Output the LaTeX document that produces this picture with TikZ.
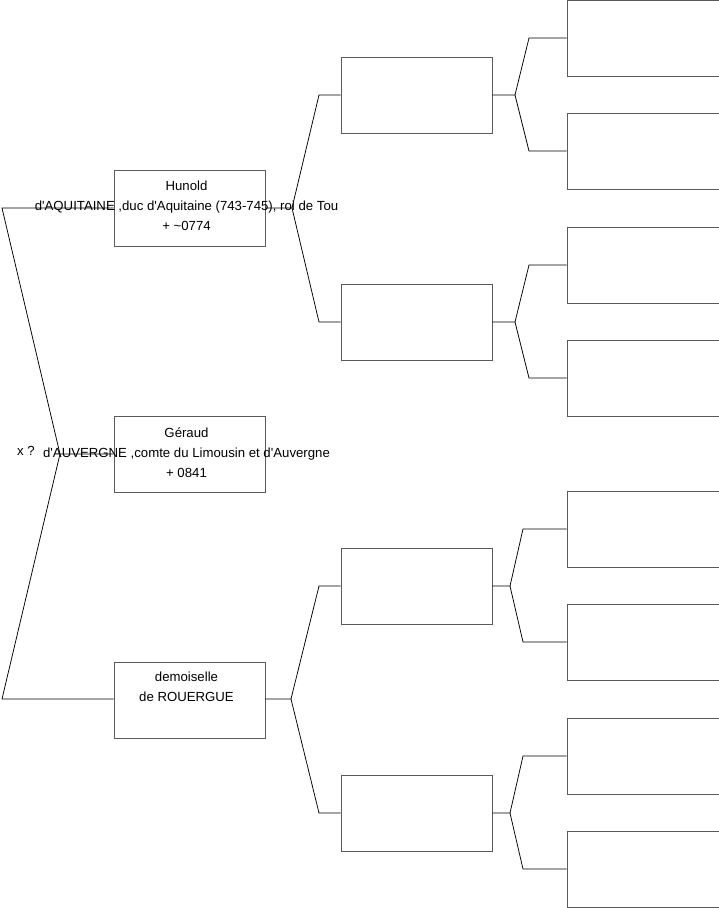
\documentclass[tikz,border=0pt]{standalone}
\usepackage{fontspec}
\setmainfont{Liberation Sans}
\usepackage{tikz}
\usetikzlibrary{positioning}
\definecolor{frame1}{RGB}{90,90,90}

\begin{document}
\begin{tikzpicture}[x=1pt, y=-1pt,
    person/.style={draw=frame1, fill=white, line width=0.9pt, minimum width=151pt, minimum height=76pt, inner sep=0pt},
    empty/.style={draw=frame1, fill=white, line width=0.9pt, minimum width=152pt, minimum height=76pt, inner sep=0pt},
    names/.style={align=center, font=\fontsize{13.2}{20}\selectfont, inner sep=0pt},
    link/.style={draw=black, line width=0.75pt}
]
    \useasboundingbox (0,0) rectangle (719,908);

    % first generation
    \node[person, name=hunold] at(189.5,208) {};
    \node[person, name=geraud] at(189.5,454) {};
    \node[person, name=rouergue] at(189.5,700) {};

    % second generation
    \node[person, name=pa] at(416.5,95) {};
    \node[person, name=pb] at(416.5,322) {};
    \node[person, name=pc] at(416.5,586) {};
    \node[person, name=pd] at(416.5,813) {};

    % third generation
    \node[empty, name=qa] at(643,38) {};
    \node[empty, name=qb] at(643,151) {};
    \node[empty, name=qc] at(643,265) {};
    \node[empty, name=qd] at(643,378) {};
    \node[empty, name=qe] at(643,529) {};
    \node[empty, name=qf] at(643,642) {};
    \node[empty, name=qg] at(643,756) {};
    \node[empty, name=qh] at(643,869) {};

    % fork points
    \coordinate (jg) at (60,454);
    \coordinate (jh1) at (2,208);
    \coordinate (jr1) at (2,699);
    \coordinate (jh) at (292,208);
    \coordinate (jr) at (291,699);
    \coordinate (ja) at (515,95);
    \coordinate (jb) at (515,322);
    \coordinate (jc) at (510,586);
    \coordinate (jd) at (510,813);

    \draw[link] (geraud.west) -- (jg) -- (jh1) -- (hunold.west |- jh1);
    \draw[link] (jg) -- (jr1) -- (rouergue.west |- jr1);

    \draw[link] (hunold.east) -- (jh) -- (319,95) -- (pa.west);
    \draw[link] (jh) -- (319,322) -- (pb.west);
    \draw[link] (rouergue.east |- jr) -- (jr) -- (319,586) -- (pc.west);
    \draw[link] (jr) -- (319,813) -- (pd.west);

    \draw[link] (pa.east) -- (ja) -- (529,38) -- (qa.west);
    \draw[link] (ja) -- (529,151) -- (qb.west);
    \draw[link] (pb.east) -- (jb) -- (529,265) -- (qc.west);
    \draw[link] (jb) -- (529,378) -- (qd.west);
    \draw[link] (pc.east) -- (jc) -- (523,529) -- (qe.west);
    \draw[link] (jc) -- (523,642) -- (qf.west);
    \draw[link] (pd.east) -- (jd) -- (523,756) -- (qg.west);
    \draw[link] (jd) -- (523,869) -- (qh.west);

    % texts
    \node[names, name=hunoldtxt] at(186.5,206) {Hunold\\d\textquotesingle AQUITAINE ,duc d\textquotesingle Aquitaine (743-745), roi de Tou\\+ \textasciitilde0774};
    \node[names, name=geraudtxt] at(186.5,453) {Géraud\\d\textquotesingle AUVERGNE ,comte du Limousin et d\textquotesingle Auvergne\\+ 0841};
    \node[names, name=rouerguetxt] at(186.5,687) {demoiselle\\de ROUERGUE};
    \node[names, name=xmark] at(26,451) {x ?};
\end{tikzpicture}
\end{document}
